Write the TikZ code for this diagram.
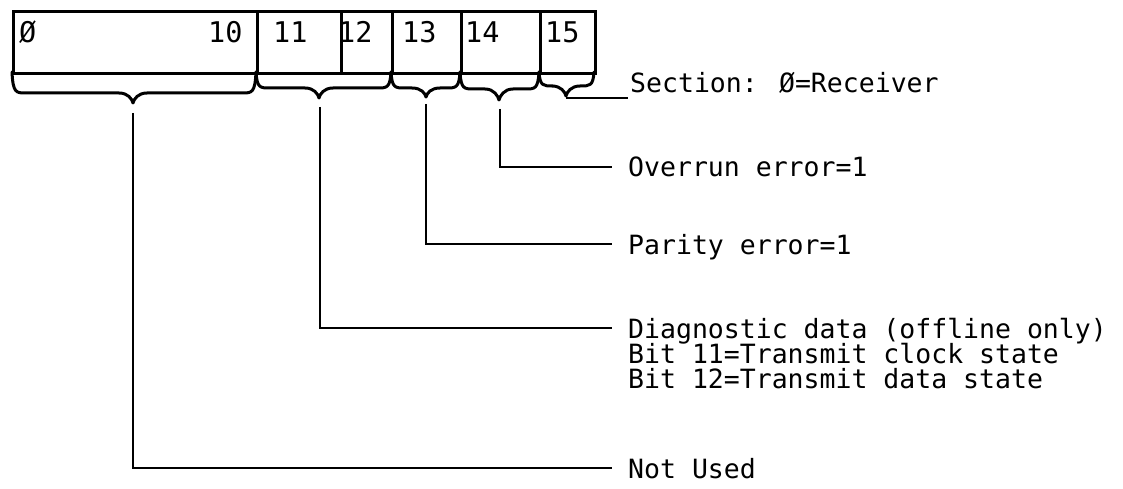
\documentclass[tikz,border=0pt]{standalone}
\usepackage{fontspec}
\newfontfamily\mono{DejaVu Sans Mono}
\newcommand\mybrace[5]{%
  \draw[brc] (#1,72) .. controls ({#1+1},#4) and ({#1+4},#4) .. ({#1+14},#4)
    -- ({#3-14},#4) .. controls ({#3-5},#4) and ({#3-1},{#5-4}) .. (#3,#5)
    .. controls ({#3+1},{#5-4}) and ({#3+5},#4) .. ({#3+14},#4)
    -- ({#2-14},#4) .. controls ({#2-4},#4) and ({#2-1},#4) .. (#2,72);}
\begin{document}
\begin{tikzpicture}[x=1pt,y=-1pt,
  cell/.style={draw, line width=2.6pt, rectangle, inner sep=0pt, minimum height=62pt, anchor=north west},
  num/.style={font=\mono\fontsize{28.5}{25}\selectfont, inner sep=0pt, anchor=base west},
  txt/.style={font=\mono\fontsize{26.5}{25}\selectfont, inner sep=0pt, anchor=base west},
  lbl/.style={font=\mono\fontsize{26.5}{25}\selectfont, inner sep=0pt, anchor=west, text height=20pt, text depth=0pt},
  brc/.style={line width=3pt, line join=round, line cap=round},
  lead/.style={line width=2.8pt, shorten >=16pt}]
\useasboundingbox (0,0) rectangle (1123,489);
% register cells
\node[cell, minimum width=244pt] (c0) at (12,10) {};
\node[cell, minimum width=84pt]  (c11) at (256,10) {};
\node[cell, minimum width=51pt]  (c12) at (340,10) {};
\node[cell, minimum width=69pt]  (c13) at (391,10) {};
\node[cell, minimum width=79pt]  (c14) at (460,10) {};
\node[cell, minimum width=55pt]  (c15) at (539,10) {};
% bit numbers
\node[num] (n0)  at (19,43)  {Ø};
\node[num] (n10) at (208,43) {10};
\node[num] (n11) at (273,43) {11};
\node[num] (n12) at (338,43) {12};
\node[num] (n13) at (402,43) {13};
\node[num] (n14) at (465,43) {14};
\node[num] (n15) at (545,43) {15};
% braces
\mybrace{12}{256}{133}{93}{103}
\mybrace{256}{391}{319}{88}{98}
\mybrace{391}{460}{426}{88}{97}
\mybrace{460}{539}{499}{89}{100}
\mybrace{539}{594}{566}{86}{96}
% tip coordinates
\coordinate (t1) at (133,113);
\coordinate (t2) at (320,107);
\coordinate (t3) at (426,104);
\coordinate (t4) at (500,109);
\coordinate (t5) at (566,98);
% labels
\node[txt] (sec) at (630,93) {Section: Ø=Receiver};
\node[lbl] (ovr) at (628,167) {Overrun error=1};
\node[lbl] (par) at (628,244) {Parity error=1};
\node[lbl] (dg1) at (628,328) {Diagnostic data (offline only)};
\node[txt] (dg2) at ([yshift=-25pt]dg1.base west) {Bit 11=Transmit clock state};
\node[txt] (dg3) at ([yshift=-25pt]dg2.base west) {Bit 12=Transmit data state};
\node[lbl] (nu)  at (628,468) {Not Used};
% leaders
\draw[line width=2.8pt] (t5) -- ([xshift=-2pt,yshift=-5pt]sec.base west);
\draw[lead] (t4) |- (ovr.west);
\draw[lead] (t3) |- (par.west);
\draw[lead] (t2) |- (dg1.west);
\draw[lead] (t1) |- (nu.west);
\end{tikzpicture}
\end{document}
